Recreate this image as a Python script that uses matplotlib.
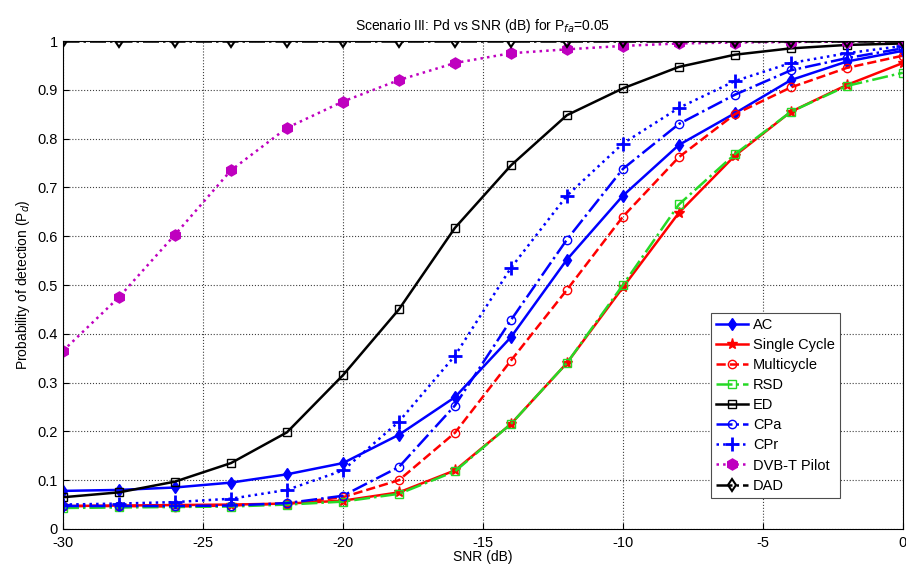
import numpy as np
import matplotlib
matplotlib.use("Agg")
import matplotlib.pyplot as plt

plt.rcParams['font.family'] = ['Liberation Sans', 'DejaVu Sans']
plt.rcParams['axes.unicode_minus'] = False

snr = [-30, -28, -26, -24, -22, -20, -18, -16, -14, -12, -10, -8, -6, -4, -2, 0]

pd_ac = [0.078, 0.080, 0.085, 0.095, 0.112, 0.135, 0.193, 0.270, 0.393, 0.552,
         0.683, 0.787, 0.852, 0.920, 0.958, 0.980]
pd_single = [0.047, 0.048, 0.049, 0.050, 0.052, 0.058, 0.075, 0.120, 0.215, 0.340,
             0.495, 0.648, 0.765, 0.855, 0.910, 0.955]
pd_multi = [0.047, 0.047, 0.046, 0.048, 0.052, 0.065, 0.100, 0.197, 0.345, 0.490,
            0.640, 0.762, 0.850, 0.905, 0.945, 0.970]
pd_rsd = [0.043, 0.044, 0.045, 0.046, 0.050, 0.056, 0.072, 0.118, 0.215, 0.340,
          0.500, 0.665, 0.768, 0.855, 0.908, 0.935]
pd_ed = [0.065, 0.075, 0.097, 0.135, 0.198, 0.315, 0.450, 0.617, 0.745, 0.848,
         0.903, 0.947, 0.972, 0.985, 0.992, 0.995]
pd_cpa = [0.047, 0.047, 0.047, 0.048, 0.053, 0.068, 0.127, 0.253, 0.428, 0.593,
          0.738, 0.830, 0.890, 0.940, 0.965, 0.985]
pd_cpr = [0.050, 0.052, 0.055, 0.062, 0.080, 0.120, 0.220, 0.355, 0.535, 0.683,
          0.790, 0.863, 0.918, 0.955, 0.975, 0.990]
pd_dvbt = [0.365, 0.475, 0.603, 0.735, 0.822, 0.876, 0.920, 0.955, 0.975, 0.983,
           0.990, 0.995, 0.997, 0.998, 0.999, 1.000]
pd_dad = [1.0] * 16

fig = plt.figure(figsize=(9.06, 5.7), dpi=100)
ax = fig.add_axes([0.0695, 0.072, 0.927, 0.856])

green = (0.15, 0.85, 0.15)
lw = 1.8
ms = 6

ax.plot(snr, pd_ac, '-', color='b', marker='d', mfc='b', ms=ms, lw=lw, label='AC')
ax.plot(snr, pd_single, '-', color='r', marker='*', ms=ms + 2, lw=lw, label='Single Cycle')
ax.plot(snr, pd_multi, '--', color='r', marker='o', mfc='none', ms=ms, lw=lw, label='Multicycle')
ax.plot(snr, pd_rsd, '-.', color=green, marker='s', mfc='none', ms=ms, lw=lw, label='RSD')
ax.plot(snr, pd_ed, '-', color='k', marker='s', mfc='none', ms=ms, lw=lw, label='ED')
ax.plot(snr, pd_cpa, '-.', color='b', marker='o', mfc='none', ms=ms, lw=lw, label='CPa')
ax.plot(snr, pd_cpr, ':', color='b', marker='+', ms=ms + 4, mew=2, lw=lw, label='CPr')
ax.plot(snr, pd_dvbt, ':', color='m', marker='h', mfc='m', ms=ms + 2, lw=lw, label='DVB-T Pilot')
ax.plot(snr, pd_dad, '-.', color='k', marker='d', mfc='none', ms=ms, mew=1.5, lw=lw, label='DAD')

ax.set_xlim(-30, 0)
ax.set_ylim(0, 1)
ax.set_xticks(np.arange(-30, 1, 5))
ax.set_yticks(np.arange(0, 1.01, 0.1))
ax.set_yticklabels(['0', '0.1', '0.2', '0.3', '0.4', '0.5', '0.6', '0.7', '0.8', '0.9', '1'])
ax.tick_params(labelsize=10.5, direction='in', length=4)
ax.tick_params(axis='x', pad=5)
ax.grid(True, linestyle=':', color='0.25', linewidth=0.8)

ax.set_xlabel('SNR (dB)', fontsize=10, labelpad=0)
ax.set_ylabel('Probability of detection (P$_d$)', fontsize=10, labelpad=4)
ax.set_title('Scenario III: Pd vs SNR (dB) for P$_{fa}$=0.05', fontsize=10, pad=8)

leg = ax.legend(loc='lower right', bbox_to_anchor=(0.925, 0.064), fontsize=10.5,
                fancybox=False, edgecolor='0.3', framealpha=1, handlelength=2.2,
                borderpad=0.35, labelspacing=0.42, handletextpad=0.3,
                borderaxespad=0)
leg.get_frame().set_linewidth(0.8)

fig.savefig('out.png', dpi=100)
